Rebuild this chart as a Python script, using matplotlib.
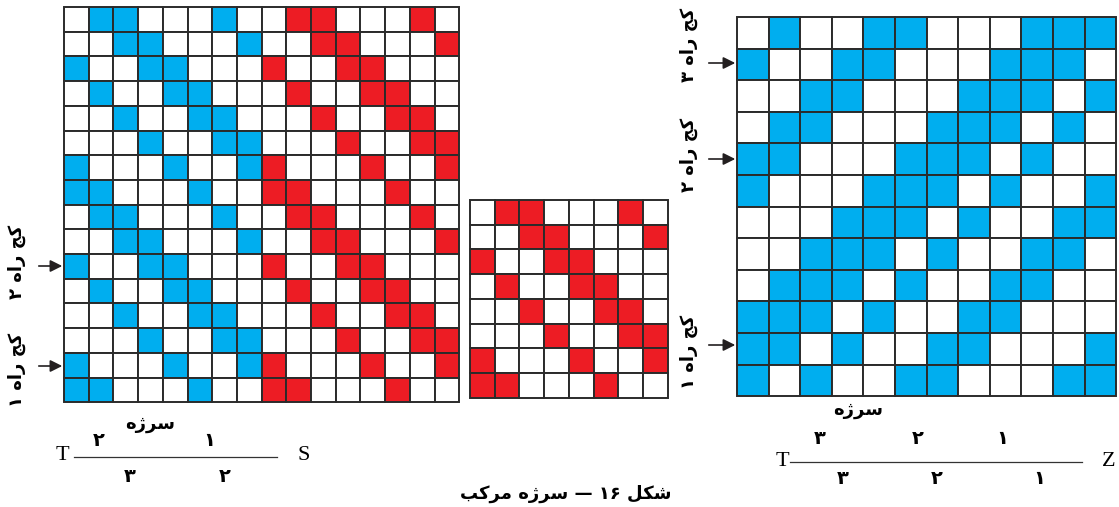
import matplotlib.pyplot as plt
from matplotlib.patches import Rectangle

# 8x8 twill pattern (1 = coloured cell), rows top to bottom
twill_8 = [
    "01100010",
    "00110001",
    "10011000",
    "01001100",
    "00100110",
    "00010011",
    "10001001",
    "11000100",
]

# 12x12 composite twill on the right, rows top to bottom
twill_12 = [
    "010011000111",
    "100110001110",
    "001100011101",
    "011000111010",
    "110001110100",
    "100011101001",
    "000111010011",
    "001110100110",
    "011101001100",
    "111010011000",
    "110100110001",
    "101001100011",
]

# persian strings in visual (left-to-right) order, shaped with presentation forms
lbl_path = {1: "\u06F1 \uFEE9\uFE8D\uFEAD \uFE9E\uFB90",
            2: "\u06F2 \uFEE9\uFE8D\uFEAD \uFE9E\uFB90",
            3: "\u06F3 \uFEE9\uFE8D\uFEAD \uFE9E\uFB90"}
sarzheh = "\uFEE9\uFB8A\uFEAE\uFEB3"
caption = "\uFE90\uFB90\uFEAE\uFEE3 \uFEE9\uFB8A\uFEAE\uFEB3 \u2014 \u06F1\u06F6 \uFEDE\uFB91\uFEB7"
digits = {1: "\u06F1", 2: "\u06F2", 3: "\u06F3"}

blue = "#00AEEF"
red = "#ED1C24"
edge = "#2b2b2b"
fa = ["DejaVu Sans", "Noto Sans"]

fig = plt.figure(figsize=(11.19, 5.07), dpi=100)
ax = fig.add_axes([0, 0, 1, 1])
ax.set_xlim(0, 1119)
ax.set_ylim(507, 0)
ax.axis("off")


def draw_grid(x0, y0, size, rows, colour_of):
    for r, row in enumerate(rows):
        for c, v in enumerate(row):
            fc = colour_of(c) if v == "1" else "white"
            ax.add_patch(Rectangle((x0 + c * size, y0 + r * size), size, size,
                                   facecolor=fc, edgecolor=edge, lw=1.4))


# left grid: 16x16, blue half + red half, pattern repeated twice down
left_rows = [row + row for row in twill_8 + twill_8]
draw_grid(64, 7, 24.7, left_rows, lambda c: blue if c < 8 else red)
# middle grid: 8x8 red
draw_grid(470, 200, 24.7, twill_8, lambda c: red)
# right grid: 12x12 blue
draw_grid(737, 17, 31.6, twill_12, lambda c: blue)


def arrow(x0, x1, y):
    ax.annotate("", xy=(x1, y), xytext=(x0, y),
                arrowprops=dict(arrowstyle="-|>", color="#231F20", lw=1.2,
                                mutation_scale=18))


def rot_label(x, y, s):
    ax.text(x, y, s, rotation=90, ha="center", va="center", fontsize=13,
            fontweight="bold", family=fa)


# left arrows
arrow(36, 65, 266)
arrow(36, 65, 366)
rot_label(17, 262, lbl_path[2])
rot_label(17, 370, lbl_path[1])

# right arrows
arrow(706, 738, 63)
arrow(706, 738, 159)
arrow(706, 738, 345)
rot_label(689, 45, lbl_path[3])
rot_label(689, 155, lbl_path[2])
rot_label(689, 352, lbl_path[1])

serif = "Liberation Serif"

# left draft line
ax.text(62, 455, "T", ha="center", va="center", fontsize=16, family=serif)
ax.plot([74, 277], [457, 457], color="#333333", lw=0.9)
ax.text(304, 455, "S", ha="center", va="center", fontsize=16, family=serif)
ax.text(150, 424, sarzheh, ha="center", va="center", fontsize=13, fontweight="bold", family=fa)
for x, d in [(99, 2), (209, 1)]:
    ax.text(x, 441, digits[d], ha="center", va="center", fontsize=14, fontweight="bold", family=fa)
for x, d in [(130, 3), (225, 2)]:
    ax.text(x, 477, digits[d], ha="center", va="center", fontsize=14, fontweight="bold", family=fa)

# right draft line
ax.text(782, 461, "T", ha="center", va="center", fontsize=16, family=serif)
ax.plot([790, 1082], [462, 462], color="#333333", lw=0.9)
ax.text(1109, 461, "Z", ha="center", va="center", fontsize=16, family=serif)
ax.text(858, 410, sarzheh, ha="center", va="center", fontsize=13, fontweight="bold", family=fa)
for x, d in [(820, 3), (918, 2), (1002, 1)]:
    ax.text(x, 439, digits[d], ha="center", va="center", fontsize=14, fontweight="bold", family=fa)
for x, d in [(843, 3), (937, 2), (1039, 1)]:
    ax.text(x, 478, digits[d], ha="center", va="center", fontsize=14, fontweight="bold", family=fa)

# caption
ax.text(566, 494, caption, ha="center", va="center", fontsize=13, fontweight="bold", family=fa)

fig.savefig("out.png", dpi=100)
